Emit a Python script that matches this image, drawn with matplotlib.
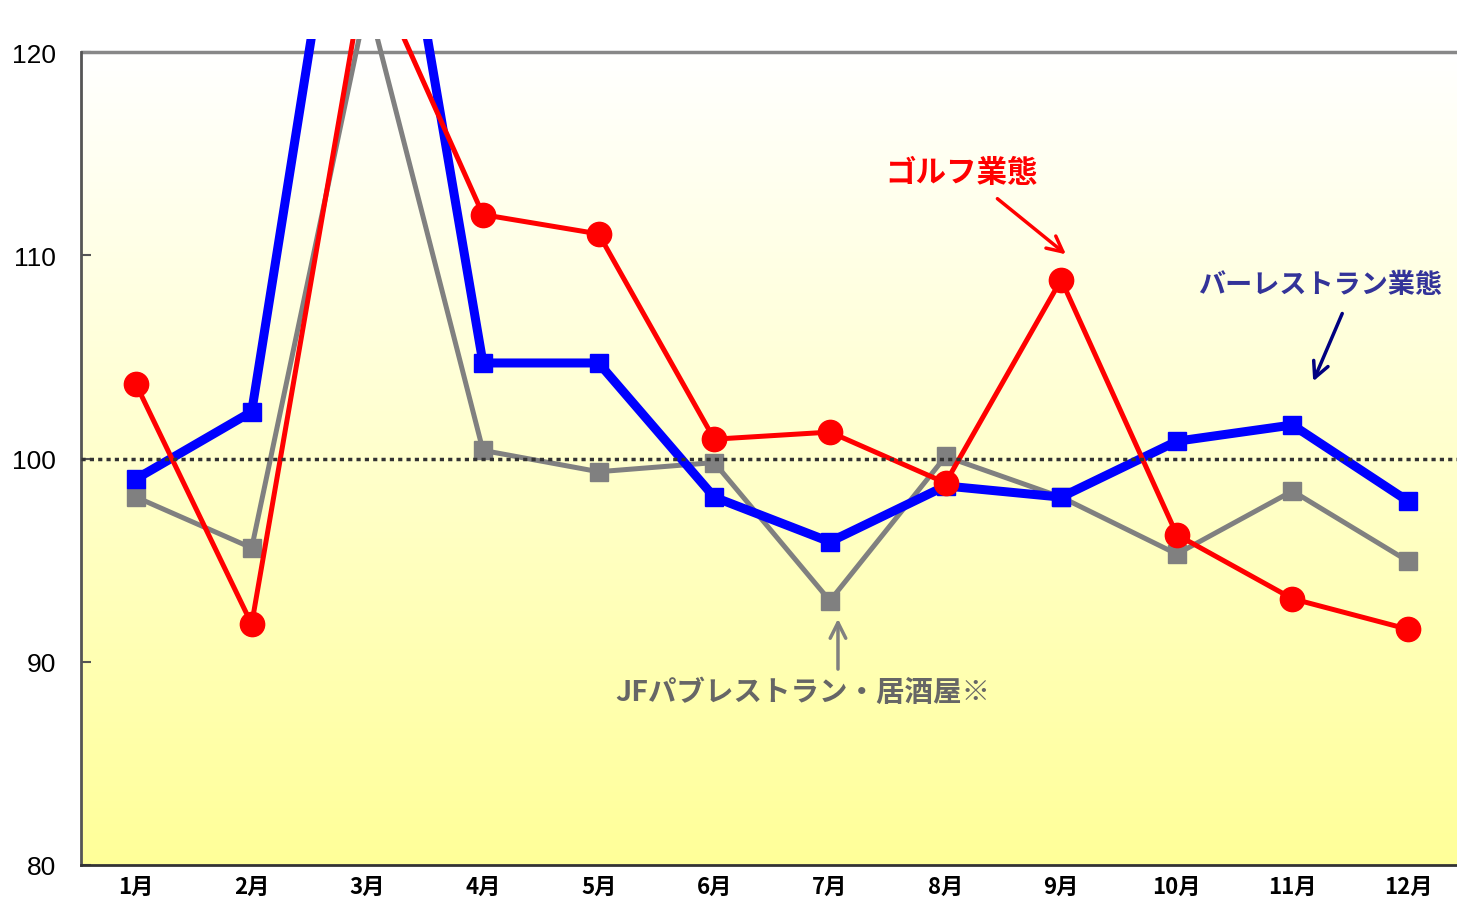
import matplotlib; matplotlib.use('Agg')
import matplotlib.pyplot as plt
import numpy as np
from matplotlib.colors import LinearSegmentedColormap

plt.rcParams['font.family'] = ['Noto Sans CJK JP', 'DejaVu Sans']

months = ['1月', '2月', '3月', '4月', '5月', '6月', '7月', '8月', '9月', '10月', '11月', '12月']
bar_rest = [99.0, 102.3, 138.0, 104.7, 104.7, 98.1, 95.9, 98.65, 98.1, 100.85, 101.65, 97.9]
golf = [103.65, 91.85, 124.7, 112.0, 111.05, 100.95, 101.3, 98.8, 108.8, 96.25, 93.1, 91.6]
jf_pub = [98.1, 95.6, 122.6, 100.4, 99.35, 99.8, 93.0, 100.1, 98.1, 95.3, 98.4, 94.95]
yticks = [80, 90, 100, 110, 120]

BLUE = '#0000FF'; RED = '#FF0000'; GREY = '#808080'; NAVY = '#333399'

fig = plt.figure(figsize=(14.57, 9.03), dpi=100)
ax = fig.add_axes([81/1457, 37/903, 1376/1457, 826.2/903])
x = np.arange(len(months))
xl = (-0.476, 11.423)
ax.set_xlim(*xl); ax.set_ylim(80, 120.65)

# background gradient (white -> pale yellow)
cmap = LinearSegmentedColormap.from_list('bg', ['#FFFF99', '#FFFFFF'])
grad = np.linspace(0, 1, 256).reshape(-1, 1)
ax.imshow(grad, extent=(xl[0], xl[1], 80, 120), origin='lower', cmap=cmap,
          aspect='auto', zorder=0)

ax.plot(x, jf_pub, color=GREY, lw=3.6, marker='s', ms=12.5, mec=GREY, zorder=3)
ax.plot(x, bar_rest, color=BLUE, lw=6.5, marker='s', ms=12.5, mec=BLUE, zorder=4)
ax.plot(x, golf, color=RED, lw=3.6, marker='o', ms=17.5, mec=RED, zorder=5)
ax.axhline(100, color='#333333', lw=2.5, ls=(0, (1.2, 1.2)), zorder=6)
ax.axhline(120, color='#888888', lw=2.5, zorder=2)

for s in ['top', 'right']:
    ax.spines[s].set_visible(False)
ax.spines['left'].set_bounds(80, 120)
ax.spines['left'].set_color('#555555'); ax.spines['left'].set_linewidth(2)
ax.spines['bottom'].set_color('#333333'); ax.spines['bottom'].set_linewidth(2)

ax.set_yticks(yticks)
ax.set_yticklabels([str(v) for v in yticks], family='Liberation Sans', size=19)
ax.tick_params(axis='y', direction='in', length=7, color='#555555', width=1.5, pad=18)
ax.set_xticks(x)
ax.set_xticklabels(months, size=16, fontweight='bold')
ax.tick_params(axis='x', length=0, pad=7)

ax.text(7.14, 114.1, 'ゴルフ業態', color=RED, size=22, fontweight='bold', ha='center', va='center')
ax.annotate('', xy=(8.06, 109.96), xytext=(7.43, 112.87),
            arrowprops=dict(arrowstyle='->', color=RED, lw=2.5, mutation_scale=28))
ax.text(10.24, 108.6, 'バーレストラン業態', color=NAVY, size=19.5, fontweight='bold', ha='center', va='center')
ax.annotate('', xy=(10.17, 103.67), xytext=(10.44, 107.26),
            arrowprops=dict(arrowstyle='->', color='#000080', lw=2.5, mutation_scale=28))
ax.text(5.77, 88.5, 'JFパブレストラン・居酒屋※', color='#666666', size=20.5, fontweight='bold', ha='center', va='center')
ax.annotate('', xy=(6.07, 92.25), xytext=(6.07, 89.5),
            arrowprops=dict(arrowstyle='->', color=GREY, lw=2.5, mutation_scale=28))

plt.savefig('out.png', dpi=100, facecolor='white')
